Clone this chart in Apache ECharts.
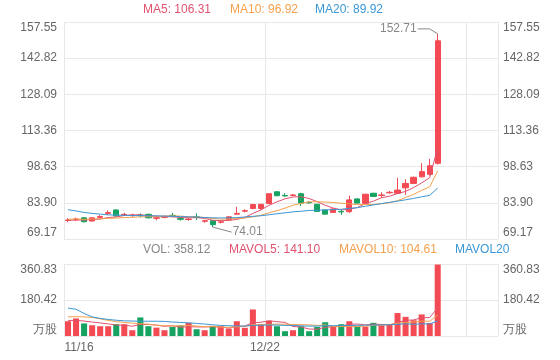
<!DOCTYPE html>
<html><head><meta charset="utf-8">
<script src="https://cdn.jsdelivr.net/npm/echarts@6/dist/echarts.min.js"></script>
<style>html,body{margin:0;padding:0;background:#fff}#c{width:560px;height:360px}</style>
</head><body><div id="c"></div>
<script>
const dates = ['11/16','11/17','11/18','11/19','11/20','11/23','11/24','11/25','11/27','11/30',
  '12/01','12/02','12/03','12/04','12/07','12/08','12/09','12/10','12/11','12/14',
  '12/15','12/16','12/17','12/18','12/21','12/22','12/23','12/24','12/25','12/28',
  '12/29','12/30','12/31','01/04','01/05','01/06','01/07','01/08','01/11','01/12',
  '01/13','01/14','01/15','01/18','01/19','01/20','01/21'];
const opens = [76.7,77.0,77.8,76.5,78.0,79.6,81.0,79.0,78.7,78.9,79.2,77.6,78.0,78.8,77.5,77.1,78.2,76.4,76.6,76.0,76.9,79.3,80.5,81.6,81.6,83.6,88.4,86.9,86.9,87.6,84.1,83.3,81.0,80.0,80.4,80.3,85.5,83.7,87.8,86.9,88.0,87.8,90.0,91.8,94.5,95.5,100.0];
const closes = [76.9,77.3,76.2,77.8,78.3,79.9,78.6,79.2,78.9,78.7,77.8,77.8,78.2,78.6,77.2,77.3,78.0,76.6,75.0,76.2,78.2,79.6,80.7,83.2,83.3,87.6,86.8,86.7,87.1,83.8,83.9,80.4,79.3,81.4,80.2,85.1,83.8,87.4,86.5,87.1,88.2,89.1,91.8,94.3,96.6,99.0,149.9];
const lows = [76.0,76.5,75.9,76.3,77.5,79.0,78.2,78.5,78.2,78.0,77.5,76.8,77.6,78.0,76.6,76.6,76.9,75.8,74.01,75.5,76.6,79.0,80.0,81.3,81.0,83.4,86.6,86.5,86.7,82.6,83.6,80.2,79.1,79.8,79.0,79.8,83.6,83.5,86.3,86.0,87.6,87.5,87.1,91.5,94.2,95.0,99.5];
const highs = [77.6,77.9,78.1,78.0,78.9,80.8,81.3,79.8,79.5,79.6,79.5,78.3,78.8,79.8,78.0,78.0,79.6,77.0,76.8,76.7,78.4,82.3,81.3,83.5,83.5,87.8,88.6,87.8,87.5,88.0,84.6,83.5,81.2,81.6,81.0,86.8,85.7,87.6,88.0,88.2,88.7,94.1,93.5,94.6,100.0,101.8,152.71];
const volumes = [74,88,63,54,49,49,59,59,29,93,49,42,29,45,53,66,34,29,49,49,37,74,41,133,59,76,49,24,29,49,24,45,69,49,59,74,49,47,66,54,59,115,96,79,108,65,358.12];
const ma5 = [76.8,76.9,76.9,77.1,77.3,77.9,78.16,78.76,78.98,79.06,78.64,78.48,78.28,78.22,77.92,77.82,77.86,77.54,76.82,76.62,76.8,77.12,77.94,79.58,81.0,82.88,84.32,85.52,86.3,86.4,85.66,84.38,82.9,81.76,81.04,81.28,81.96,83.58,84.6,85.98,86.6,87.66,88.54,90.1,92.0,94.16,106.31];
const ma10 = [77.2,77.3,77.2,77.3,77.4,77.6,77.7,77.9,78.0,78.18,78.27,78.32,78.52,78.6,78.49,78.23,78.17,77.91,77.52,77.27,77.31,77.49,77.74,78.2,78.81,79.84,80.72,81.73,82.94,83.7,84.27,84.35,84.21,84.03,83.72,83.47,83.17,83.24,83.18,83.51,83.94,84.81,86.06,87.35,88.99,90.38,96.92];
const ma20 = [81.1,80.6,80.0,79.6,79.3,79.0,78.9,78.8,78.7,78.7,78.6,78.6,78.5,78.4,78.3,78.2,78.1,77.9,77.8,77.73,77.79,77.9,78.13,78.4,78.65,79.04,79.45,79.82,80.23,80.49,80.79,80.92,80.98,81.12,81.27,81.66,81.95,82.49,83.06,83.61,84.1,84.58,85.14,85.69,86.36,86.93,89.92];
const mavol5 = [78,78,75,70,65.6,60.6,54.8,54,49,57.8,57.8,54.4,48.4,51.6,43.6,47,45.4,45.4,46.2,45.4,39.6,47.6,50,66.8,68.8,76.6,71.6,68.2,47.4,45.4,35,34.2,43.2,47.2,49.2,59.2,60,55.6,59,58,55,68.2,78,80.6,91.4,92.6,141.1];
const mavol10 = [96,97,96,93,86,78,72,68,64,61.7,59.2,54.6,51.2,50.3,50.7,52.4,49.9,46.9,48.9,44.5,43.3,46.5,47.7,56.5,57.1,58.1,59.6,59.1,57.1,57.1,55.8,52.9,55.7,47.3,47.3,47.1,47.1,49.4,53.1,53.6,57.1,64.1,66.8,69.8,74.7,73.8,104.61];
const mavol20 = [140,134,113,96,88,83,79,76,75,74,74,74,73,70,68,66,63,60,56,53.1,51.25,50.55,49.45,53.4,53.9,55.25,54.75,53,53,50.8,49.55,49.7,51.7,51.9,52.2,52.6,53.35,54.25,55.1,55.35,56.45,58.5,61.25,58.55,61,60.45,75.9];
const priceTicks = ['69.17','83.90','98.63','113.36','128.09','142.82','157.55'];
const volTicks = ['万股','180.42','360.83'];
const maLegend = [['MA5', '106.31'], ['MA10', '96.92'], ['MA20', '89.92']];
const volLegend = [['VOL', '358.12'], ['MAVOL5', '141.10'], ['MAVOL10', '104.61'], ['MAVOL20', '']];

const chart = echarts.init(document.getElementById('c'), null, {renderer: 'canvas'});
const N_SLOTS = 54;
const xCats = dates.concat(new Array(N_SLOTS - dates.length).fill(''));
const every25 = (i) => i % 25 === 0;
const UP = '#f34a53', DOWN = '#16a260';
const C_MA5 = '#e0526f', C_MA10 = '#f5a04c', C_MA20 = '#3b97d5', C_VOL = '#888888';
const GRID_LINE = '#e8e8e8';
const LBL = '#666666';
const FONT = 'Arial, "Liberation Sans", sans-serif';

function tickFmt(list) {
  return function (v, i) {
    const t = list[i] !== undefined ? list[i] : '';
    if (i === 0) return '{b|' + t + '}';
    if (i === list.length - 1) return '{t|' + t + '}';
    return '{m|' + t + '}';
  };
}
const richTB = {
  t: {padding: [12, 0, 0, 0], color: LBL, fontSize: 12, fontFamily: FONT},
  b: {padding: [0, 0, 12, 0], color: LBL, fontSize: 12, fontFamily: FONT},
  m: {color: LBL, fontSize: 12, fontFamily: FONT}
};
function yAx(grid, pos, min, max, interval, list, showSplit) {
  return {
    type: 'value', gridIndex: grid, position: pos, min: min, max: max, interval: interval,
    axisLine: {show: false}, axisTick: {show: false},
    splitLine: {show: showSplit, lineStyle: {color: GRID_LINE, width: 1}},
    axisLabel: {color: LBL, fontSize: 12, fontFamily: FONT, margin: pos === 'left' ? 7 : 5,
      formatter: tickFmt(list), rich: richTB}
  };
}
function xAx(grid, showLabel) {
  return {
    type: 'category', gridIndex: grid, data: xCats, boundaryGap: true,
    axisLine: {show: false}, axisTick: {show: false, interval: every25},
    splitLine: {show: true, interval: every25, lineStyle: {color: GRID_LINE, width: 1}},
    axisLabel: {show: showLabel, interval: every25, color: LBL, fontSize: 12, fontFamily: FONT, margin: 6,
      formatter: function (v, i) { return i === 0 ? '{l|' + v + '}' : '{c|' + v + '}'; },
      rich: {l: {padding: [0, 0, 0, 22], color: LBL, fontSize: 12, fontFamily: FONT},
             c: {padding: [0, 8, 0, 0], color: LBL, fontSize: 12, fontFamily: FONT}}}
  };
}
function maLine(name, data, color, xi, yi) {
  return {name: name, type: 'line', data: data, xAxisIndex: xi, yAxisIndex: yi, symbol: 'none', showSymbol: false,
    lineStyle: {color: color, width: 1}, itemStyle: {color: color}, z: 3, silent: true};
}
function legendTexts(items, colors, startX, xs, top, idp) {
  return items.map(function (it, k) {
    return {type: 'text', id: idp + k, left: xs[k], top: top,
      style: {text: it[1] ? it[0] + ': ' + it[1] : it[0], fill: colors[k], font: '12px ' + FONT}};
  });
}

const option = {
  animation: false,
  backgroundColor: '#ffffff',
  grid: [{left: 64, right: 62, top: 22, height: 217}, {left: 64, right: 62, top: 264, height: 72}],
  xAxis: [xAx(0, false), xAx(1, true)],
  yAxis: [
    yAx(0, 'left', 69.17, 157.55, 14.73, priceTicks, true),
    yAx(0, 'right', 69.17, 157.55, 14.73, priceTicks, false),
    yAx(1, 'left', 0, 360.83, 180.415, volTicks, true),
    yAx(1, 'right', 0, 360.83, 180.415, volTicks, false)
  ],
  series: [
    {type: 'candlestick', xAxisIndex: 0, yAxisIndex: 0, barWidth: '72%',
      data: opens.map((o, i) => [o, closes[i], lows[i], highs[i]]),
      itemStyle: {color: UP, color0: DOWN, borderColor: UP, borderColor0: DOWN, borderWidth: 1}, z: 2},
    maLine('MA5', ma5, C_MA5, 0, 0),
    maLine('MA10', ma10, C_MA10, 0, 0),
    maLine('MA20', ma20, C_MA20, 0, 0),
    {type: 'bar', xAxisIndex: 1, yAxisIndex: 2, barWidth: '75%',
      data: volumes.map((v, i) => ({value: v, itemStyle: {color: closes[i] >= opens[i] ? UP : DOWN}})), z: 2},
    maLine('MAVOL5', mavol5, C_MA5, 1, 2),
    maLine('MAVOL10', mavol10, C_MA10, 1, 2),
    maLine('MAVOL20', mavol20, C_MA20, 1, 2)
  ],
  graphic: legendTexts(maLegend, [C_MA5, C_MA10, C_MA20], 0, [143, 230, 315], 4, 'lg')
    .concat(legendTexts(volLegend, [C_VOL, C_MA5, C_MA10, C_MA20], 0, [143, 229, 339, 455], 244, 'vl'))
};
chart.setOption(option);

// max / min markers positioned through the axes
let hiIdx = 0, loIdx = 0;
highs.forEach((h, i) => { if (h > highs[hiIdx]) hiIdx = i; });
lows.forEach((l, i) => { if (l < lows[loIdx]) loIdx = i; });
const ph = chart.convertToPixel({xAxisIndex: 0, yAxisIndex: 0}, [hiIdx, highs[hiIdx]]);
const pl = chart.convertToPixel({xAxisIndex: 0, yAxisIndex: 0}, [loIdx, lows[loIdx]]);
const MK = '#888888';
chart.setOption({graphic: option.graphic.concat([
  {type: 'polyline', id: 'hiLine', shape: {points: [[ph[0] - 20, ph[1] - 5], [ph[0] - 8, ph[1] - 5], [ph[0], ph[1]]]},
    style: {stroke: MK, lineWidth: 1, fill: null}, z: 10},
  {type: 'text', id: 'hiText', x: ph[0] - 21, y: ph[1] - 5,
    style: {text: highs[hiIdx].toFixed(2), fill: MK, font: '12px ' + FONT, align: 'right', verticalAlign: 'middle'}, z: 10},
  {type: 'polyline', id: 'loLine', shape: {points: [[pl[0], pl[1]], [pl[0] + 19, pl[1] + 5]]},
    style: {stroke: MK, lineWidth: 1, fill: null}, z: 10},
  {type: 'text', id: 'loText', x: pl[0] + 20, y: pl[1] + 5,
    style: {text: lows[loIdx].toFixed(2), fill: MK, font: '12px ' + FONT, align: 'left', verticalAlign: 'middle'}, z: 10}
])});
</script>
</body></html>
